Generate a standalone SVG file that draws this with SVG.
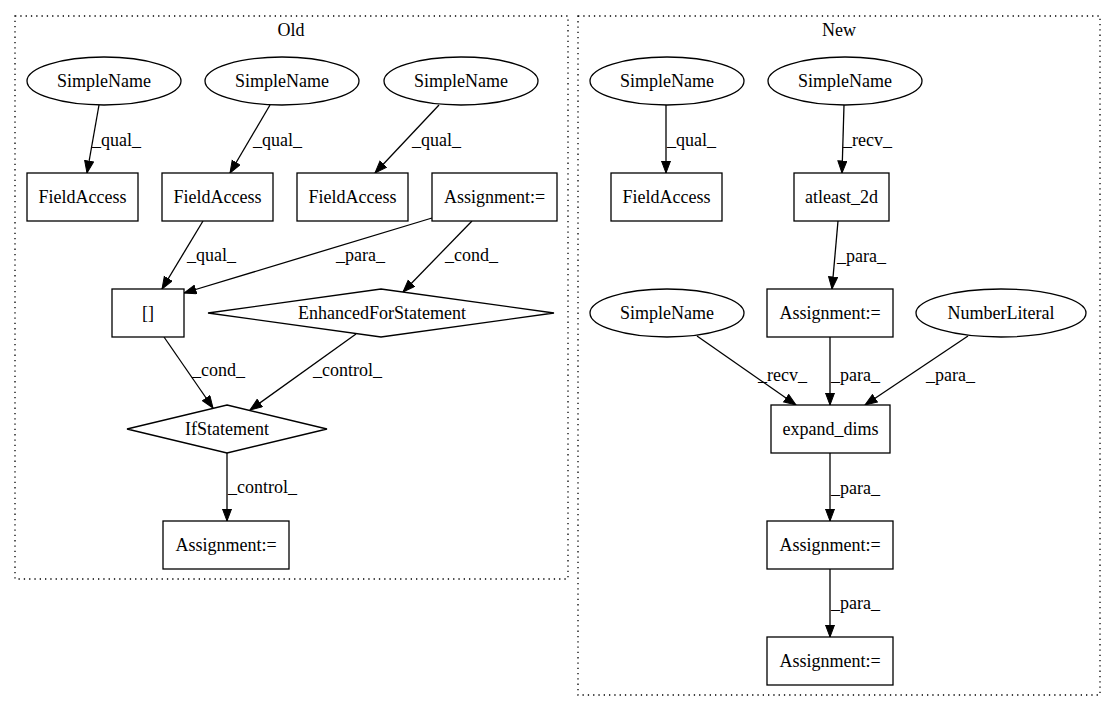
<svg xmlns="http://www.w3.org/2000/svg" width="1115" height="712" viewBox="0 0 1115 712" font-family="'Liberation Serif', 'DejaVu Serif', serif">
<style>
text{font-family:'Liberation Serif','DejaVu Serif',serif;font-size:18px;fill:#000}
.n{text-anchor:middle}
.shape{fill:#fff;stroke:#000;stroke-width:1.3}
.cl{fill:none;stroke:#000;stroke-width:1.3;stroke-dasharray:1.3,4}
.e{fill:none;stroke:#000;stroke-width:1.3;marker-end:url(#ah)}
</style>
<defs>
<marker id="ah" markerWidth="13" markerHeight="11" refX="12.5" refY="5" orient="auto" markerUnits="userSpaceOnUse">
<path d="M0.5,0.5 L12.5,5 L0.5,9.5 Z" fill="#000" stroke="#000" stroke-width="1"/>
</marker>
</defs>
<rect width="1115" height="712" fill="#fff"/>
<g id="cluster_old">
<rect class="cl" x="15" y="16" width="553" height="563"/>
<text class="n" x="291" y="36">Old</text>
</g>
<g id="cluster_new">
<rect class="cl" x="578" y="16" width="522" height="679"/>
<text class="n" x="839" y="36">New</text>
</g>
<g id="edges">
<path class="e" d="M99,105 L87,173"/>
<path class="e" d="M270,105 L230,173"/>
<path class="e" d="M439,105 L375,173"/>
<path class="e" d="M203,221 L162,289"/>
<path class="e" d="M432,218 L184,293"/>
<path class="e" d="M472,221 L403,292"/>
<path class="e" d="M164,337 L213,408"/>
<path class="e" d="M356,334 L250,410"/>
<path class="e" d="M227,453 L227,521"/>
<path class="e" d="M666,105 L666,173"/>
<path class="e" d="M844,105 L842,173"/>
<path class="e" d="M838,221 L832,289"/>
<path class="e" d="M697,336 L796,405"/>
<path class="e" d="M830,337 L830,405"/>
<path class="e" d="M968,336 L865,405"/>
<path class="e" d="M830,453 L830,521"/>
<path class="e" d="M830,569 L830,637"/>
<text x="92" y="146">_qual_</text>
<text x="253" y="146">_qual_</text>
<text x="412" y="146">_qual_</text>
<text x="187" y="261">_qual_</text>
<text x="336" y="261">_para_</text>
<text x="445" y="261">_cond_</text>
<text x="192" y="376">_cond_</text>
<text x="313" y="376">_control_</text>
<text x="228" y="493">_control_</text>
<text x="667" y="146">_qual_</text>
<text x="843" y="146">_recv_</text>
<text x="837" y="262">_para_</text>
<text x="758" y="381">_recv_</text>
<text x="831" y="381">_para_</text>
<text x="926" y="381">_para_</text>
<text x="831" y="494">_para_</text>
<text x="831" y="609">_para_</text>
</g>
<g id="old_sn1"><ellipse class="shape" cx="104" cy="81" rx="77" ry="24"/><text class="n" x="104" y="87">SimpleName</text></g>
<g id="old_sn2"><ellipse class="shape" cx="282" cy="81" rx="77" ry="24"/><text class="n" x="282" y="87">SimpleName</text></g>
<g id="old_sn3"><ellipse class="shape" cx="461" cy="81" rx="77" ry="24"/><text class="n" x="461" y="87">SimpleName</text></g>
<g id="old_fa1"><rect class="shape" x="27" y="173" width="111" height="48"/><text class="n" x="82.5" y="203">FieldAccess</text></g>
<g id="old_fa2"><rect class="shape" x="162" y="173" width="111" height="48"/><text class="n" x="217.5" y="203">FieldAccess</text></g>
<g id="old_fa3"><rect class="shape" x="297" y="173" width="111" height="48"/><text class="n" x="352.5" y="203">FieldAccess</text></g>
<g id="old_assign1"><rect class="shape" x="432" y="173" width="125" height="48"/><text class="n" x="494.5" y="203">Assignment:=</text></g>
<g id="old_index"><rect class="shape" x="112" y="289" width="72" height="48"/><text class="n" x="148" y="319">[]</text></g>
<g id="old_efs"><polygon class="shape" points="381,289 554,313 381,337 208,313"/><text class="n" x="382" y="319">EnhancedForStatement</text></g>
<g id="old_if"><polygon class="shape" points="227,405 327,429 227,453 127,429"/><text class="n" x="227" y="435">IfStatement</text></g>
<g id="old_assign2"><rect class="shape" x="163" y="521" width="126" height="48"/><text class="n" x="226" y="551">Assignment:=</text></g>
<g id="new_sn1"><ellipse class="shape" cx="667" cy="81" rx="77" ry="24"/><text class="n" x="667" y="87">SimpleName</text></g>
<g id="new_sn2"><ellipse class="shape" cx="845" cy="81" rx="77" ry="24"/><text class="n" x="845" y="87">SimpleName</text></g>
<g id="new_fa"><rect class="shape" x="611" y="173" width="111" height="48"/><text class="n" x="666.5" y="203">FieldAccess</text></g>
<g id="new_atleast"><rect class="shape" x="794" y="173" width="95" height="48"/><text class="n" x="841.5" y="203">atleast_2d</text></g>
<g id="new_sn3"><ellipse class="shape" cx="667" cy="313" rx="77" ry="24"/><text class="n" x="667" y="319">SimpleName</text></g>
<g id="new_assign1"><rect class="shape" x="767" y="289" width="126" height="48"/><text class="n" x="830" y="319">Assignment:=</text></g>
<g id="new_num"><ellipse class="shape" cx="1001" cy="313" rx="85" ry="24"/><text class="n" x="1001" y="319">NumberLiteral</text></g>
<g id="new_expand"><rect class="shape" x="771" y="405" width="119" height="48"/><text class="n" x="830.5" y="435">expand_dims</text></g>
<g id="new_assign2"><rect class="shape" x="767" y="521" width="126" height="48"/><text class="n" x="830" y="551">Assignment:=</text></g>
<g id="new_assign3"><rect class="shape" x="767" y="637" width="126" height="48"/><text class="n" x="830" y="667">Assignment:=</text></g>
</svg>
